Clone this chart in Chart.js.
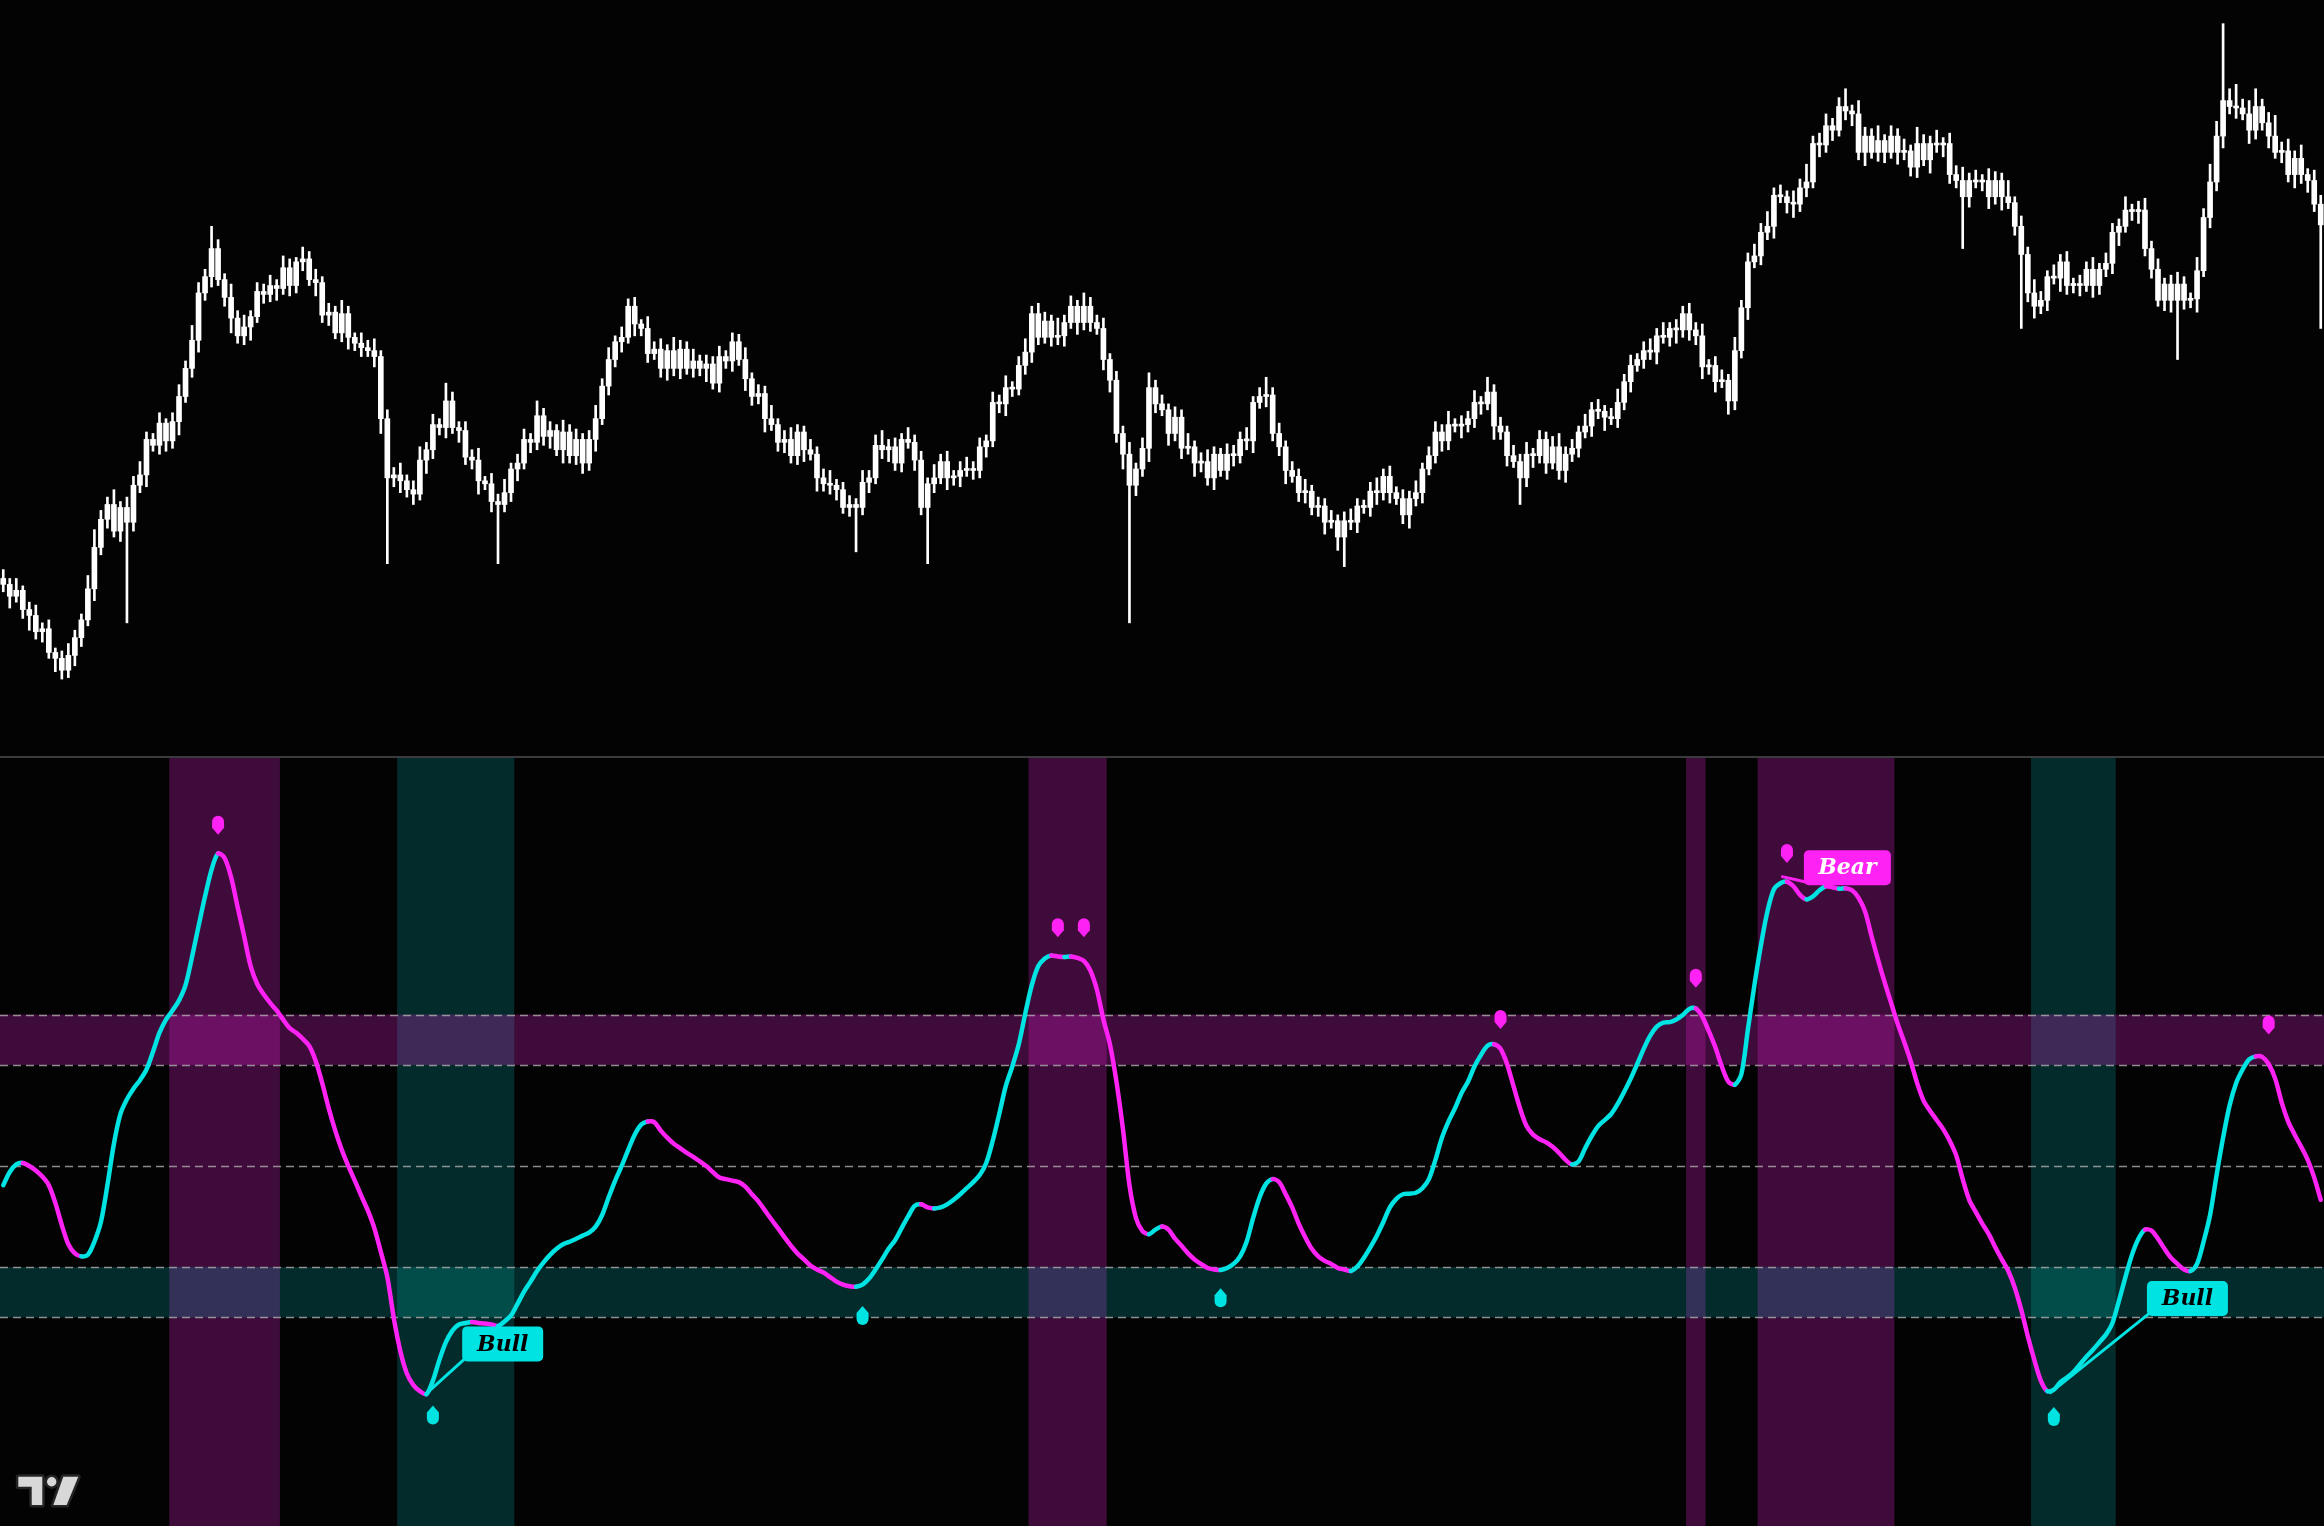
<!DOCTYPE html>
<html><head><meta charset="utf-8">
<script src="https://cdn.jsdelivr.net/npm/chart.js@4.4.0/dist/chart.umd.min.js"></script>
<style>
html,body{margin:0;padding:0;background:#040304;width:2324px;height:1526px;overflow:hidden}
#top{position:absolute;left:0;top:0;width:2324px;height:756px}
#sep{position:absolute;left:0;top:756px;width:2324px;height:2px;background:#3b3b3d}
#bot{position:absolute;left:0;top:758px;width:2324px;height:768px}
canvas{display:block}
</style></head><body>
<div id="top"><canvas id="c1" width="2324" height="756" style="width:2324px;height:756px"></canvas></div>
<div id="sep"></div>
<div id="bot"><canvas id="c2" width="2324" height="768" style="width:2324px;height:768px"></canvas></div>
<script>
// ---------- price data (arbitrary price units) ----------
const firstOpen = 120;
const closes = [
116,108,112,99,95,84,86,70,66,58,
68,80,92,113,141,160,170,152,168,158,
183,190,214,210,225,213,226,243,262,281,
313,324,343,322,310,296,284,290,297,314,
312,318,316,330,318,334,336,322,320,298,
300,286,299,283,279,276,274,270,228,188,
190,186,180,177,200,207,224,222,240,222,
220,202,200,186,184,172,170,178,194,198,
214,212,230,216,220,207,219,203,214,198,
214,228,250,268,280,283,304,292,289,272,
275,262,274,262,275,262,267,262,265,252,
270,267,280,268,255,243,245,228,224,212,
214,203,219,207,204,188,184,183,180,168,
170,168,185,188,210,207,209,198,214,212,
200,168,184,188,199,188,189,193,194,193,
209,213,239,238,249,248,264,273,299,283,
294,283,284,293,304,293,304,293,289,268,
254,218,204,183,194,208,249,238,234,218,
229,208,209,198,199,188,204,193,204,203,
214,213,239,243,244,218,209,193,189,178,
179,168,169,158,159,148,159,158,169,168,
179,178,189,178,174,163,174,178,194,203,
219,213,224,223,224,228,239,238,246,223,
219,203,199,188,204,203,214,198,209,193,
204,208,219,223,234,233,229,228,239,253,
264,268,274,273,284,283,289,288,299,288,
284,263,264,253,254,240,274,303,334,338,
354,358,379,378,374,373,384,388,414,413,
426,423,439,436,434,408,419,408,416,408,
419,408,409,398,414,403,414,413,414,393,
389,378,389,388,389,378,389,378,374,358,
339,313,304,308,324,323,334,318,319,318,
329,318,329,333,354,358,369,368,369,343,
329,308,319,308,319,308,309,328,364,388,
419,443,439,438,434,423,439,428,419,408,
409,393,404,393,389,373,359];
const wickUp = [
6,4,8,3,5,7,4,6,3,5, 8,5,4,9,12,6,5,10,4,7, 6,9,5,4,7,3,6,8,5,10, 7,5,15,6,4,9,5,8,4,6,
5,7,4,8,6,3,8,5,7,4, 6,4,9,5,3,7,5,8,4,6, 5,8,4,6,9,5,7,4,12,6, 4,6,5,8,3,7,5,9,4,6,
7,4,10,5,6,4,8,5,7,4, 6,9,5,8,4,7,5,6,3,8, 5,7,4,9,6,5,8,4,6,5, 7,4,6,5,8,4,6,5,9,4,
6,8,5,4,7,5,6,9,4,5, 6,4,8,5,7,10,5,6,4,8, 5,6,4,9,5,7,4,6,8,5, 6,4,7,5,8,4,6,9,5,7,
6,4,12,5,7,4,9,6,5,7, 4,6,5,8,4,7,10,5,6,4, 7,5,9,4,6,8,5,4,7,6, 5,8,4,6,12,5,7,4,6,5,
8,4,6,5,7,4,6,8,5,4, 6,9,5,7,4,6,5,8,4,6, 7,5,9,4,6,5,8,4,10,5, 6,4,7,5,8,4,6,5,7,9,
5,6,4,8,5,7,4,6,9,5, 7,4,6,8,5,9,4,6,5,7, 5,8,4,6,7,4,9,5,6,8, 6,10,5,7,4,8,6,12,5,7,
8,5,6,12,4,9,6,5,10,4, 7,5,8,4,11,6,5,9,4,7, 6,9,5,7,4,8,6,5,11,4, 7,5,9,6,4,8,5,7,4,6,
5,8,4,7,6,5,9,4,6,8, 5,7,4,6,8,5,4,9,6,12, 10,52,8,15,6,9,12,5,7,14, 6,8,5,9,4,7,6];
const wickDown = [
5,8,4,6,10,5,7,4,9,6, 5,7,6,4,8,5,6,4,7,68, 6,5,8,4,6,7,5,9,4,6, 8,5,7,4,6,10,5,6,9,4,
6,5,8,4,7,5,6,4,9,5, 7,4,6,8,5,6,4,7,10,58, 6,8,5,7,4,9,6,5,7,4, 8,5,6,9,4,7,40,5,6,8,
4,7,5,6,8,4,9,5,6,7, 5,8,4,6,5,7,4,8,5,6, 4,6,8,5,7,4,6,5,9,4, 6,5,7,4,8,6,5,9,4,6,
7,5,6,8,4,9,5,6,7,4, 6,30,5,7,4,6,8,5,6,4, 7,5,38,6,4,8,5,7,4,6, 5,7,4,6,8,5,4,6,7,5,
4,6,5,7,4,8,5,6,4,7, 8,6,10,93,7,5,9,6,4,8, 5,7,4,9,6,5,8,4,6,7, 5,6,8,4,7,5,6,9,4,6,
7,5,6,8,4,9,20,5,7,4, 6,8,5,7,4,6,9,5,7,4, 5,7,6,4,8,5,6,7,4,9, 5,7,4,18,6,8,5,7,4,6,
8,5,6,4,7,5,9,4,6,5, 7,4,6,5,8,4,6,9,5,7, 6,8,5,7,4,9,6,5,8,4, 6,5,8,4,7,9,5,6,4,8,
5,7,4,6,8,5,9,4,6,7, 4,8,5,6,7,4,9,5,8,6, 5,35,7,4,6,8,5,9,4,6, 50,6,8,5,7,4,9,6,5,7,
4,8,6,5,7,9,4,6,8,5, 6,4,7,8,40,6,5,9,4,7, 6,8,5,7,4,9,6,5,8,4, 7,5,9,6,8,5,70];

// ---------- oscillator data ----------
const osc = [
46.2,48.8,50.3,50.6,50.0,49.1,47.9,46.2,42.7,38.3,
34.5,32.7,32.1,32.4,35.0,38.9,46.2,54.4,60.3,63.2,
65.3,67.0,69.1,72.6,76.4,79.0,80.8,82.8,85.8,91.4,
97.5,103.4,108.7,111.9,111.0,107.2,101.3,95.5,89.6,86.1,
84.0,82.3,80.8,79.0,77.3,76.4,75.2,73.8,70.8,66.4,
61.4,57.0,53.2,50.0,47.1,44.1,41.2,37.7,33.0,28.0,
19.8,13.3,8.9,6.6,5.4,4.8,7.5,11.6,15.1,17.4,
18.6,18.9,19.1,18.9,18.8,18.6,18.3,19.2,20.4,22.7,
25.1,27.1,29.2,30.9,32.4,33.6,34.5,35.0,35.6,36.2,
36.8,38.0,40.3,43.8,47.1,50.0,53.2,56.2,58.2,58.8,
58.7,57.0,55.6,54.4,53.5,52.6,51.8,50.9,50.0,48.8,
47.7,47.4,47.1,46.8,45.9,44.4,43.0,41.2,39.4,37.7,
35.9,34.2,32.7,31.5,30.3,29.5,28.9,28.0,27.1,26.5,
26.2,26.1,26.5,27.7,29.5,31.5,33.6,35.3,37.7,40.0,
42.1,42.4,41.8,41.6,41.8,42.4,43.3,44.4,45.6,46.8,
48.2,50.6,55.0,60.3,65.8,69.7,74.1,80.2,85.8,89.6,
91.1,91.7,91.5,91.4,91.5,91.2,90.6,88.7,84.9,79.0,
74.1,66.7,57.3,46.2,39.7,37.1,36.5,37.4,38.0,37.4,
35.6,34.2,32.7,31.5,30.6,29.8,29.5,29.4,29.8,30.6,
32.1,35.0,39.7,43.8,46.5,47.4,46.8,44.4,41.8,38.6,
35.9,33.6,32.1,31.2,30.6,29.8,29.5,29.2,30.1,31.8,
33.9,36.2,38.9,41.8,43.5,44.4,44.5,44.7,45.6,47.4,
51.2,55.6,58.8,61.4,64.4,66.7,69.7,72.0,73.8,74.1,
73.2,70.2,65.8,61.4,57.9,56.2,55.3,54.7,53.8,52.6,
51.2,50.3,50.9,53.5,55.9,57.9,59.1,60.3,62.3,64.7,
67.3,70.2,73.2,75.8,77.6,78.4,78.5,79.0,79.9,81.1,
81.2,79.6,76.7,73.5,69.7,66.7,66.1,68.2,77.0,85.8,
93.7,100.4,104.8,106.0,106.3,105.4,103.7,102.8,103.4,104.6,
105.4,105.2,104.9,105.0,104.6,103.1,100.4,95.5,90.8,86.4,
82.3,78.2,74.6,70.8,66.4,62.9,60.9,59.1,57.3,55.0,
52.1,47.4,43.3,40.9,38.6,36.5,33.9,31.5,29.2,25.9,
21.5,16.3,11.6,7.5,5.4,5.7,7.2,8.1,9.2,10.7,
12.2,13.6,15.1,16.6,18.9,23.3,28.0,32.4,35.6,37.4,
37.2,35.6,33.6,31.8,30.6,29.5,29.2,30.6,35.0,40.3,
48.2,55.6,62.0,66.4,69.1,71.1,71.7,71.6,70.2,67.3,
62.6,58.8,56.2,53.8,51.2,47.7,43.3];
const levels = [80, 70, 50, 30, 20];
const bearZoneLevel = [70, 80];
const bullZoneLevel = [20, 30];
const bearZones = [[26,42],[158,169],[259,261],[270,290]];
const bullZones = [[61,78],[312,324]];
const bearMarks = [[33,117.5],[162,97.2],[166,97.2],[230,79.0],[260,87.2],[274,111.9],[348,77.9]];
const bullMarks = [[66,0.7],[132,20.4],[187,23.9],[315,0.4]];
const signalLabels = [
  {text:'Bull', at:[70.5,11.3], from:[64.9,4.8]},
  {text:'Bear', at:[276.6,105.6], from:[273.3,107.3]},
  {text:'Bull', at:[329.3,20.3], from:[314.5,5.1]}
];

const CYAN = '#00e3e3';
const MAGENTA = '#ff22f4';

const labels = closes.map((_, i) => i);
const opens = closes.map((c, i) => i === 0 ? firstOpen : closes[i - 1]);
const bodies = closes.map((c, i) => [opens[i], c]);
const wicks = closes.map((c, i) => [Math.min(opens[i], c) - wickDown[i], Math.max(opens[i], c) + wickUp[i]]);

new Chart(document.getElementById('c1'), {
  type: 'bar',
  data: { labels, datasets: [
    { data: wicks, backgroundColor: '#ffffff', barThickness: 2, grouped: false, order: 2 },
    { data: bodies, backgroundColor: '#ffffff', barThickness: 5, grouped: false, minBarLength: 2, order: 1 }
  ]},
  options: {
    responsive: false, animation: false, devicePixelRatio: 1,
    layout: { padding: 0 },
    plugins: { legend: { display: false }, tooltip: { enabled: false } },
    scales: {
      x: { display: false, offset: true, grid: { display: false } },
      y: { display: false, min: 0, max: 511 }
    }
  }
});

function drop(ctx, x, y, pointUp, color) {
  const r = 6, h = 19;
  ctx.beginPath();
  if (pointUp) {
    const cy = y + h / 2 - r;
    ctx.moveTo(x, y - h / 2);
    ctx.lineTo(x + r, y - h / 2 + 7);
    ctx.lineTo(x + r, cy);
    ctx.arc(x, cy, r, 0, Math.PI, false);
    ctx.lineTo(x - r, y - h / 2 + 7);
  } else {
    const cy = y - h / 2 + r;
    ctx.moveTo(x, y + h / 2);
    ctx.lineTo(x - r, y + h / 2 - 7);
    ctx.lineTo(x - r, cy);
    ctx.arc(x, cy, r, Math.PI, 0, false);
    ctx.lineTo(x + r, y + h / 2 - 7);
  }
  ctx.closePath();
  ctx.fillStyle = color;
  ctx.fill();
}

const bandPlugin = {
  id: 'bands',
  beforeDatasetsDraw(chart) {
    const { ctx, chartArea: a, scales: { x, y } } = chart;
    const half = (x.getPixelForValue(1) - x.getPixelForValue(0)) / 2;
    ctx.save();
    const vband = (s, e, col) => {
      const l = x.getPixelForValue(s) - half, r = x.getPixelForValue(e) + half;
      ctx.fillStyle = col;
      ctx.fillRect(l, a.top, r - l, a.bottom - a.top);
    };
    bearZones.forEach(([s, e]) => vband(s, e, 'rgba(255,40,235,0.235)'));
    bullZones.forEach(([s, e]) => vband(s, e, 'rgba(0,235,225,0.175)'));
    const hband = (lo, hi, col) => {
      const t = y.getPixelForValue(hi), b = y.getPixelForValue(lo);
      ctx.fillStyle = col;
      ctx.fillRect(a.left, t, a.right - a.left, b - t);
    };
    hband(bearZoneLevel[0], bearZoneLevel[1], 'rgba(255,40,235,0.235)');
    hband(bullZoneLevel[0], bullZoneLevel[1], 'rgba(0,235,225,0.175)');
    ctx.setLineDash([8, 5]);
    ctx.strokeStyle = 'rgba(175,175,175,0.8)';
    ctx.lineWidth = 1.3;
    levels.forEach(v => {
      const py = Math.round(y.getPixelForValue(v)) + 0.5;
      ctx.beginPath(); ctx.moveTo(a.left, py); ctx.lineTo(a.right, py); ctx.stroke();
    });
    ctx.restore();
  }
};

const overlayPlugin = {
  id: 'overlay',
  afterDatasetsDraw(chart) {
    const { ctx, scales: { x, y } } = chart;
    ctx.save();
    bearMarks.forEach(([b, v]) => drop(ctx, x.getPixelForValue(b), y.getPixelForValue(v), false, MAGENTA));
    bullMarks.forEach(([b, v]) => drop(ctx, x.getPixelForValue(b), y.getPixelForValue(v), true, CYAN));
    signalLabels.forEach(l => {
      const bull = l.text === 'Bull';
      const col = bull ? CYAN : MAGENTA;
      const ax = x.getPixelForValue(l.at[0]), ay = y.getPixelForValue(l.at[1]);
      const fx = x.getPixelForValue(l.from[0]), fy = y.getPixelForValue(l.from[1]);
      ctx.strokeStyle = col; ctx.lineWidth = 3; ctx.lineCap = 'round';
      ctx.beginPath(); ctx.moveTo(fx, fy); ctx.lineTo(ax + 3, ay - 3); ctx.stroke();
      const w = bull ? 81 : 87, h = 35;
      ctx.fillStyle = col;
      ctx.beginPath(); ctx.roundRect(ax, ay - h, w, h, 5); ctx.fill();
      ctx.fillStyle = bull ? '#000000' : '#ffffff';
      ctx.font = 'italic bold 22px "DejaVu Serif"';
      ctx.textAlign = 'center'; ctx.textBaseline = 'middle';
      ctx.fillText(l.text, ax + w / 2, ay - h / 2 + 1);
    });
    // TradingView-style logo mark
    const oy = -758;
    const shape = () => {
      ctx.beginPath();
      ctx.moveTo(18.3, 1476.7 + oy); ctx.lineTo(42.3, 1476.7 + oy); ctx.lineTo(42.3, 1505 + oy);
      ctx.lineTo(31.7, 1505 + oy); ctx.lineTo(31.7, 1486.7 + oy); ctx.lineTo(18.3, 1486.7 + oy); ctx.closePath();
      ctx.moveTo(56.4, 1481.7 + oy); ctx.arc(51.7, 1481.7 + oy, 4.7, 0, Math.PI * 2);
      ctx.moveTo(63.3, 1476.7 + oy); ctx.lineTo(78.3, 1476.7 + oy); ctx.lineTo(66.7, 1505 + oy); ctx.lineTo(53.3, 1505 + oy); ctx.closePath();
    };
    ctx.lineJoin = 'round';
    shape(); ctx.strokeStyle = '#242424'; ctx.lineWidth = 5; ctx.stroke();
    shape(); ctx.fillStyle = '#d8d8d8'; ctx.fill();
    ctx.restore();
  }
};

new Chart(document.getElementById('c2'), {
  type: 'line',
  data: { labels, datasets: [{
    data: osc,
    borderColor: CYAN,
    borderWidth: 4.5,
    pointRadius: 0,
    tension: 0.3,
    borderCapStyle: 'round',
    borderJoinStyle: 'round',
    segment: { borderColor: c => (c.p1.parsed.y >= c.p0.parsed.y ? CYAN : MAGENTA) }
  }]},
  options: {
    responsive: false, animation: false, devicePixelRatio: 1,
    layout: { padding: 0 },
    plugins: { legend: { display: false }, tooltip: { enabled: false } },
    scales: {
      x: { display: false, offset: true, grid: { display: false } },
      y: { display: false, min: -21.3, max: 130.8 }
    }
  },
  plugins: [bandPlugin, overlayPlugin]
});
</script>
</body></html>
